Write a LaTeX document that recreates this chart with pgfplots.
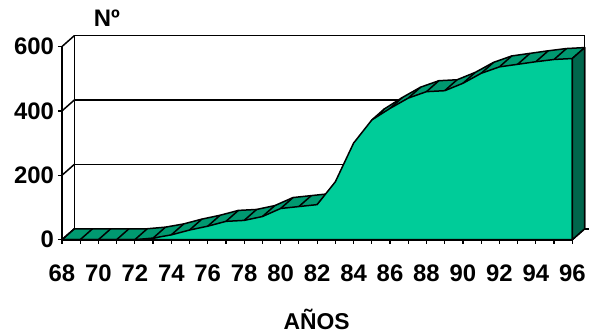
\documentclass[border=0pt]{standalone}
\usepackage{pgfplots}
\usepackage{pgfplotstable}
\pgfplotsset{compat=1.18}
\usepackage{fontspec}
\setmainfont{Liberation Sans}

\definecolor{facegreen}{RGB}{0,204,153}
\definecolor{bandgreen}{RGB}{0,153,112}
\definecolor{sidegreen}{RGB}{0,102,76}

% Number of units per year
\pgfplotstableread{
x y
68 0
69 0
70 0
71 0
72 0
73 5
74 15
75 30
76 42
77 57
78 60
79 72
80 97
81 103
82 109
83 180
84 300
85 372
86 408
87 440
88 460
89 463
90 486
91 517
92 537
93 545
94 553
95 560
96 563
}\datatable

% depth offset of the 3-D band (in data units)
\def\depthx{0.68}
\def\depthy{34}

\begin{document}
\begin{tikzpicture}[every path/.append style={line width=1.5bp}]
\begin{axis}[
  x=18.25bp, y=0.32222bp,
  xmin=68, xmax=96, ymin=0, ymax=600,
  axis x line*=bottom, axis y line*=left,
  clip=false,
  xtick={68,70,...,96}, minor xtick={69,71,...,95},
  ytick={0,200,400,600},
  tick align=outside,
  major tick length=4bp, minor tick length=4bp,
  tick style={black, line width=1.2bp},
  x axis line style={line width=2.4bp},
  y axis line style={line width=1.5bp},
  ticklabel style={font=\fontsize{24}{24}\selectfont\bfseries},
  xticklabel style={yshift=-17bp},
  /pgf/number format/assume math mode=true,
]
  % fixed page frame
  \path (axis cs:64.603,-288.6) rectangle (axis cs:96.93,744.8);

  % back wall, side wall and floor
  \draw[line width=1.5bp, fill=white] (axis cs:68.68,34) rectangle (axis cs:96.68,634);
  \draw[line width=1.5bp] (axis cs:68.68,234) -- (axis cs:96.68,234);
  \draw[line width=1.5bp] (axis cs:68.68,434) -- (axis cs:96.68,434);
  \draw[line width=1.5bp] (axis cs:68,200) -- (axis cs:68.68,234);
  \draw[line width=1.5bp] (axis cs:68,400) -- (axis cs:68.68,434);
  \draw[line width=1.5bp] (axis cs:68,600) -- (axis cs:68.68,634);
  \draw[line width=1.5bp] (axis cs:96.68,34) -- (axis cs:96.93,34);

  % top band: the series pushed back in depth, closed along the floor
  \addplot[fill=bandgreen, draw=black, line width=1.5bp, line join=round]
    table[x expr=\thisrow{x}+\depthx, y expr=\thisrow{y}+\depthy] {\datatable}
    -- (axis cs:96.68,34) -- (axis cs:96,0) -- (axis cs:68,0) -- cycle;
  \addplot[black, line width=1.5bp, -, quiver={u=\depthx, v=\depthy}] table {\datatable};

  % front face
  \addplot[fill=facegreen, draw=black, line width=1.5bp, line join=round]
    table {\datatable} \closedcycle;

  % right side face
  \addplot[fill=sidegreen, draw=black, line width=1.5bp, line join=round]
    coordinates {(96,0) (96,563) (96.68,597) (96.68,34)} -- cycle;

  % titles
  \node[font=\fontsize{24}{24}\selectfont\bfseries] at (axis cs:70.47,689) {Nº};
  \node[font=\fontsize{23}{23}\selectfont\bfseries] at (axis cs:81.97,-247) {AÑOS};
\end{axis}
\end{tikzpicture}
\end{document}
